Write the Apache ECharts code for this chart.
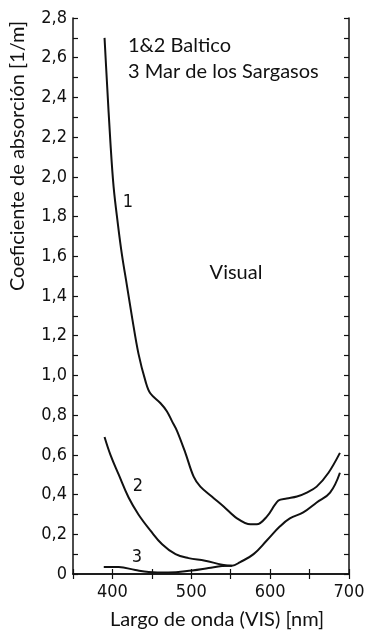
<!DOCTYPE html>
<html>
<head>
<meta charset="utf-8">
<script src="https://cdn.jsdelivr.net/npm/echarts@6/dist/echarts.min.js"></script>
<style>
html,body{margin:0;padding:0;background:#fff;}
#chart{width:374px;height:640px;}
</style>
</head>
<body>
<div id="chart"></div>
<script>
// Curve 1 (Baltico)
const wavelength1 = [390, 393, 397.5, 401.5, 407, 412, 418.5, 425, 433, 442, 448, 461, 469, 475.5, 482, 492.5, 503, 511.5, 526, 541, 558, 575, 583, 596, 610.5, 621, 634, 646.5, 659, 674, 688.5];
const absorption1 = [2.70, 2.48, 2.17, 1.95, 1.76, 1.61, 1.45, 1.29, 1.11, 0.97, 0.91, 0.86, 0.82, 0.77, 0.72, 0.61, 0.49, 0.44, 0.39, 0.34, 0.28, 0.25, 0.25, 0.29, 0.37, 0.38, 0.39, 0.41, 0.44, 0.51, 0.61];
// Curve 2 (Baltico)
const wavelength2 = [390, 397.5, 408, 420.5, 433, 448, 463, 480, 496.5, 517.5, 539, 551.5, 562, 579, 596, 612.5, 625, 642, 659, 676, 688.5];
const absorption2 = [0.69, 0.60, 0.50, 0.385, 0.30, 0.22, 0.15, 0.10, 0.08, 0.067, 0.047, 0.042, 0.06, 0.10, 0.17, 0.24, 0.28, 0.31, 0.36, 0.41, 0.51];
// Curve 3 (Mar de los Sargasos)
const wavelength3 = [389, 408, 429, 446, 471, 501, 522, 539, 551.5];
const absorption3 = [0.035, 0.035, 0.02, 0.01, 0.007, 0.018, 0.03, 0.04, 0.042];
// Tick labels
const xTickLabels = [400, 500, 600, 700];
const yTickLabels = ['0', '0,2', '0,4', '0,6', '0,8', '1,0', '1,2', '1,4', '1,6', '1,8', '2,0', '2,2', '2,4', '2,6', '2,8'];
const xTitle = 'Largo de onda (VIS) [nm]';
const yTitle = 'Coeficiente de absorción [1/m]';
const legendLines = ['1&2 Baltico', '3 Mar de los Sargasos'];
const curveNames = ['1', '2', '3'];

const tickFont = '"DejaVu Sans Condensed", "DejaVu Sans", sans-serif';
const textFont = 'Lato, "Open Sans", sans-serif';
const ink = '#111';

function pairs(xs, ys){ return xs.map((x,i)=>[x, ys[i]]); }

const chart = echarts.init(document.getElementById('chart'));
const axisLine = {show:true, lineStyle:{color:ink, width:1.5}};
chart.setOption({
  animation:false,
  backgroundColor:'#fff',
  grid:{left:73, right:25, top:18, bottom:66},
  xAxis:[{
    type:'value', min:350, max:700, interval:50, position:'bottom',
    axisLine:axisLine,
    axisTick:{show:true, inside:true, length:5, lineStyle:{color:ink, width:1.2}},
    axisLabel:{show:true, margin:9, color:ink, fontFamily:tickFont, fontSize:18,
      formatter:function(v){ return xTickLabels.indexOf(v) >= 0 ? String(v) : ''; }},
    splitLine:{show:false}
  },{
    type:'value', min:350, max:700, interval:50, position:'top',
    axisLine:axisLine,
    axisTick:{show:true, inside:true, length:5, lineStyle:{color:ink, width:1.2}},
    axisLabel:{show:false}, splitLine:{show:false}
  }],
  yAxis:[{
    type:'value', min:0, max:2.8, interval:0.2, position:'left',
    axisLine:axisLine,
    axisTick:{show:true, inside:true, length:5, lineStyle:{color:ink, width:1.2}},
    minorTick:{show:true, splitNumber:2, length:5, lineStyle:{color:ink, width:1.2}},
    axisLabel:{show:true, margin:6, color:ink, fontFamily:tickFont, fontSize:18,
      formatter:function(v){ return yTickLabels[Math.round(v/0.2)]; }},
    splitLine:{show:false}, minorSplitLine:{show:false}
  },{
    type:'value', min:0, max:2.8, interval:0.1, position:'right',
    axisLine:axisLine,
    axisTick:{show:true, inside:true, length:5, lineStyle:{color:ink, width:1.2}},
    axisLabel:{show:false}, splitLine:{show:false}
  }],
  series:[
    {type:'line', data:pairs(wavelength1, absorption1), smooth:0.35, showSymbol:false, lineStyle:{color:ink, width:2}},
    {type:'line', data:pairs(wavelength2, absorption2), smooth:0.4, showSymbol:false, lineStyle:{color:ink, width:2}},
    {type:'line', data:pairs(wavelength3, absorption3), smooth:0.4, showSymbol:false, lineStyle:{color:ink, width:2}}
  ],
  graphic:[
    {type:'text', x:18, y:156, rotation:Math.PI/2,
      style:{text:yTitle, font:'20px ' + textFont, fill:ink, textAlign:'center', textVerticalAlign:'middle'}},
    {type:'text', x:217, y:620,
      style:{text:xTitle, font:'20px ' + textFont, fill:ink, textAlign:'center', textVerticalAlign:'middle'}},
    {type:'text', x:128, y:46,
      style:{text:legendLines[0], font:'20px ' + textFont, fill:ink, textAlign:'left', textVerticalAlign:'middle'}},
    {type:'text', x:128, y:72,
      style:{text:legendLines[1], font:'20px ' + textFont, fill:ink, textAlign:'left', textVerticalAlign:'middle'}},
    {type:'text', x:236, y:273,
      style:{text:'Visual', font:'20px ' + textFont, fill:ink, textAlign:'center', textVerticalAlign:'middle'}},
    {type:'text', x:128, y:202,
      style:{text:curveNames[0], font:'18px ' + tickFont, fill:ink, textAlign:'center', textVerticalAlign:'middle'}},
    {type:'text', x:138, y:486,
      style:{text:curveNames[1], font:'18px ' + tickFont, fill:ink, textAlign:'center', textVerticalAlign:'middle'}},
    {type:'text', x:137, y:557,
      style:{text:curveNames[2], font:'18px ' + tickFont, fill:ink, textAlign:'center', textVerticalAlign:'middle'}}
  ]
});
</script>
</body>
</html>
